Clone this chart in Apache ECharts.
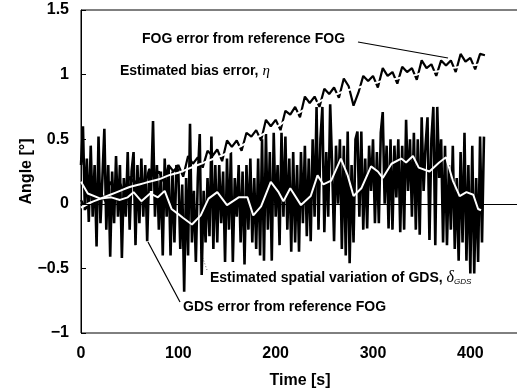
<!DOCTYPE html>
<html><head><meta charset="utf-8">
<script src="https://cdn.jsdelivr.net/npm/echarts@6/dist/echarts.min.js"></script>
<style>html,body{margin:0;padding:0;background:#fff}#c{width:517px;height:390px}</style>
</head><body><div id="c"></div>
<script>
// ---- data ----
var xTicks = [0, 100, 200, 300, 400];
var yTicks = [-1, -0.5, 0, 0.5, 1, 1.5];
// GDS error from reference FOG, sampled every 2 s starting at t = 0
var gdsStep = 2;
var gdsError = [
 0.3,0.6,-0.05,0.35,-0.14,0.45,-0.1,0.3,-0.33,0.52,
 -0.15,0.2,0.58,-0.2,0.3,-0.41,0.25,-0.15,0.37,-0.1,
 0.3,-0.42,0.2,-0.1,0.4,-0.2,0.25,0.4,-0.32,0.3,
 -0.15,0.35,-0.1,0.3,-0.29,0.25,0.1,0.64,-0.1,0.3,
 -0.2,0.25,-0.4,0.35,-0.1,0.3,-0.4,0.25,-0.3,0.3,
 0.25,-0.35,0.15,-0.68,0.2,-0.4,0.62,-0.3,0.1,-0.45,
 0.2,0.54,-0.55,0.1,-0.3,0.2,-0.25,0.52,-0.35,0.3,
 -0.3,0.3,-0.15,0.25,-0.45,0.35,-0.2,0.4,-0.45,0.2,
 -0.1,0.3,-0.3,0.25,-0.47,0.3,-0.2,0.35,-0.3,0.2,
 -0.35,0.35,-0.4,0.5,-0.44,0.54,-0.2,0.4,-0.44,0.55,
 -0.1,0.3,-0.32,0.55,-0.1,0.52,-0.2,0.35,-0.37,0.4,
 -0.3,0.3,-0.37,0.4,-0.15,0.45,-0.25,0.35,-0.29,0.5,
 -0.1,0.75,-0.2,0.5,0.75,-0.22,0.4,-0.1,0.77,0.3,
 -0.29,0.45,0.0,0.5,-0.35,0.45,-0.4,0.56,-0.46,0.3,
 -0.3,0.5,0.56,-0.1,0.56,-0.2,0.35,-0.19,0.45,0.1,
 0.5,-0.15,0.4,-0.15,0.55,0.71,0.0,0.45,-0.19,0.5,
 -0.2,0.45,0.05,0.5,-0.22,0.45,-0.2,0.65,0.1,0.5,
 -0.1,0.55,-0.2,0.5,-0.24,0.67,0.1,0.45,0.67,-0.28,
 0.5,0.75,-0.32,0.75,0.2,0.5,-0.3,0.45,-0.32,0.3,
 -0.2,0.45,-0.35,0.2,-0.44,0.4,-0.3,0.55,-0.44,0.3,
 -0.54,0.45,-0.54,0.2,-0.45,0.52,-0.3,0.52
];
// FOG error from reference FOG, every 5 s from t = 0
var fogStep = 5;
var fogError = [
 0.03,-0.04,0.09,0.05,0.09,0.02,0.17,0.12,0.16,0.08,
 0.21,0.16,0.2,0.12,0.27,0.21,0.25,0.17,0.3,0.25,
 0.3,0.21,0.37,0.31,0.36,0.28,0.41,0.37,0.42,0.33,
 0.49,0.44,0.49,0.41,0.55,0.52,0.57,0.49,0.65,0.6,
 0.65,0.57,0.72,0.69,0.75,0.67,0.83,0.78,0.83,0.75,
 0.89,0.85,0.9,0.82,0.97,0.91,0.76,0.86,0.99,0.95,
 0.99,0.9,1.05,0.99,1.02,0.93,1.06,1.02,1.05,0.96,
 1.11,1.05,1.08,0.99,1.11,1.07,1.11,1.02,1.16,1.1,
 1.13,1.04,1.16,1.15
];
// Estimated bias error, eta
var etaTime = [0,10,20,30,40,50,60,70,80,90,100,110,120,130,140,150,160,170,180,190,200,210,220,230,240,250,260,270,280,290,300,310,320,330,340,350,360,370,380,390,400,410,415];
var etaValue = [-0.03,0.01,0.04,0.07,0.1,0.13,0.15,0.17,0.19,0.22,0.24,0.27,0.3,0.33,0.36,0.39,0.43,0.47,0.51,0.55,0.59,0.64,0.69,0.73,0.77,0.81,0.84,0.87,0.89,0.91,0.93,0.95,0.96,0.98,0.99,1.01,1.02,1.03,1.05,1.06,1.07,1.08,1.09];
// Estimated spatial variation of GDS, delta_GDS
var deltaTime = [0,7,20,31,40,48,54,62,71,79,86,93,100,105,114,123,131,140,150,162,171,177,185,195,203,208,215,226,236,243,249,257,267,274,280,288,298,305,310,319,329,334,341,347,358,368,375,382,389,396,403,408,411];
var deltaValue = [0.17,0.08,0.04,0.05,0.03,0.05,0.09,0.02,0.08,0.05,0.1,-0.04,-0.08,-0.11,-0.16,-0.09,0.04,0.09,-0.01,0.05,0.05,-0.09,-0.02,0.17,0.09,0.02,0.12,-0.01,0.06,0.22,0.15,0.18,0.35,0.22,0.06,0.12,0.29,0.25,0.2,0.31,0.35,0.32,0.37,0.28,0.25,0.32,0.36,0.18,0.06,0.09,0.07,-0.04,-0.05];

function pairsStep(vals, step){ return vals.map(function(v,i){ return [i*step, v]; }); }
function pairs(ts, vs){ return ts.map(function(t,i){ return [t, vs[i]]; }); }

var chart = echarts.init(document.getElementById('c'), null, {renderer:'canvas'});
var FONT = '"Liberation Sans", Arial, Helvetica, sans-serif';
function minus(v){ return String(v).replace('-', '\u2212'); }

chart.setOption({
  animation: false,
  backgroundColor: '#fff',
  grid: {left: 81, right: -2, top: 10, bottom: 57, containLabel: false, outerBoundsMode: 'none',
         show: true, borderColor: '#000', borderWidth: 1, backgroundColor: 'transparent'},
  xAxis: {
    type: 'value', min: 0, max: 450, interval: 100,
    name: 'Time [s]', nameLocation: 'middle', nameGap: 40, nameMoveOverlap: false,
    nameTextStyle: {fontFamily: FONT, fontSize: 16, fontWeight: 'bold', color: '#000'},
    axisLine: {show: true, lineStyle: {color: '#000', width: 1}},
    axisTick: {show: false},
    splitLine: {show: false},
    axisLabel: {fontFamily: FONT, fontSize: 16, fontWeight: 'bold', color: '#000', margin: 13, showMaxLabel: false,
      formatter: function(v){ return xTicks.indexOf(v) >= 0 ? String(v) : ''; }}
  },
  yAxis: {
    type: 'value', min: -1, max: 1.5, interval: 0.5,
    name: 'Angle [\u00b0]', nameLocation: 'middle', nameGap: 46, nameRotate: 90, nameMoveOverlap: false,
    nameTextStyle: {fontFamily: FONT, fontSize: 16, fontWeight: 'bold', color: '#000'},
    axisLine: {show: true, lineStyle: {color: '#000', width: 1}},
    axisTick: {show: true, inside: true, length: 5, lineStyle: {color: '#000'}},
    splitLine: {show: false},
    axisLabel: {fontFamily: FONT, fontSize: 16, fontWeight: 'bold', color: '#000', margin: 12,
      formatter: function(v){ return yTicks.indexOf(v) >= 0 ? minus(v) : ''; }}
  },
  series: [
    {type: 'line', name: 'GDS error from reference FOG', data: pairsStep(gdsError, gdsStep),
     showSymbol: false, lineStyle: {color: '#000', width: 2.6}, z: 2,
     markLine: {silent: true, symbol: 'none', label: {show: false},
       lineStyle: {color: '#000', width: 1, type: 'solid'}, data: [{yAxis: 0}]}},
    {type: 'line', name: 'FOG error from reference FOG', data: pairsStep(fogError, fogStep),
     showSymbol: false, lineStyle: {color: '#000', width: 2.2}, z: 3},
    {type: 'line', name: 'Estimated bias error', data: pairs(etaTime, etaValue),
     showSymbol: false, smooth: 0.3, lineStyle: {color: '#fff', width: 2}, z: 4},
    {type: 'line', name: 'Estimated spatial variation of GDS', data: pairs(deltaTime, deltaValue),
     showSymbol: false, lineStyle: {color: '#fff', width: 2}, z: 5}
  ],
  graphic: [
    {type: 'text', left: 142, top: 32, style: {text: 'FOG error from reference FOG', font: 'bold 14px ' + FONT, fill: '#000'}},
    {type: 'line', shape: {x1: 358, y1: 42, x2: 448, y2: 58}, style: {stroke: '#000', lineWidth: 1.2}},
    {type: 'text', left: 120, top: 64, style: {rich: {
        n: {fontFamily: FONT, fontSize: 14, fontWeight: 'bold', fill: '#000'},
        g: {fontFamily: 'serif', fontStyle: 'italic', fontSize: 15, fill: '#000'}},
      text: '{n|Estimated bias error, }{g|\u03b7}'}},
    {type: 'text', left: 210, top: 270, style: {rich: {
        n: {fontFamily: FONT, fontSize: 14, fontWeight: 'bold', fill: '#000'},
        g: {fontFamily: 'serif', fontStyle: 'italic', fontSize: 16, fill: '#000'},
        s: {fontFamily: FONT, fontStyle: 'italic', fontSize: 8, fill: '#000', padding: [7, 0, 0, 0]}},
      text: '{n|Estimated spatial variation of GDS, }{g|\u03b4}{s|GDS}'}},
    {type: 'line', shape: {x1: 207, y1: 270, x2: 200, y2: 250}, style: {stroke: '#666', lineWidth: 1, lineDash: [1, 2]}},
    {type: 'text', left: 183, top: 300, style: {text: 'GDS error from reference FOG', font: 'bold 14px ' + FONT, fill: '#000'}},
    {type: 'line', shape: {x1: 148, y1: 242, x2: 180, y2: 302}, style: {stroke: '#000', lineWidth: 1.2}}
  ]
});
</script></body></html>
